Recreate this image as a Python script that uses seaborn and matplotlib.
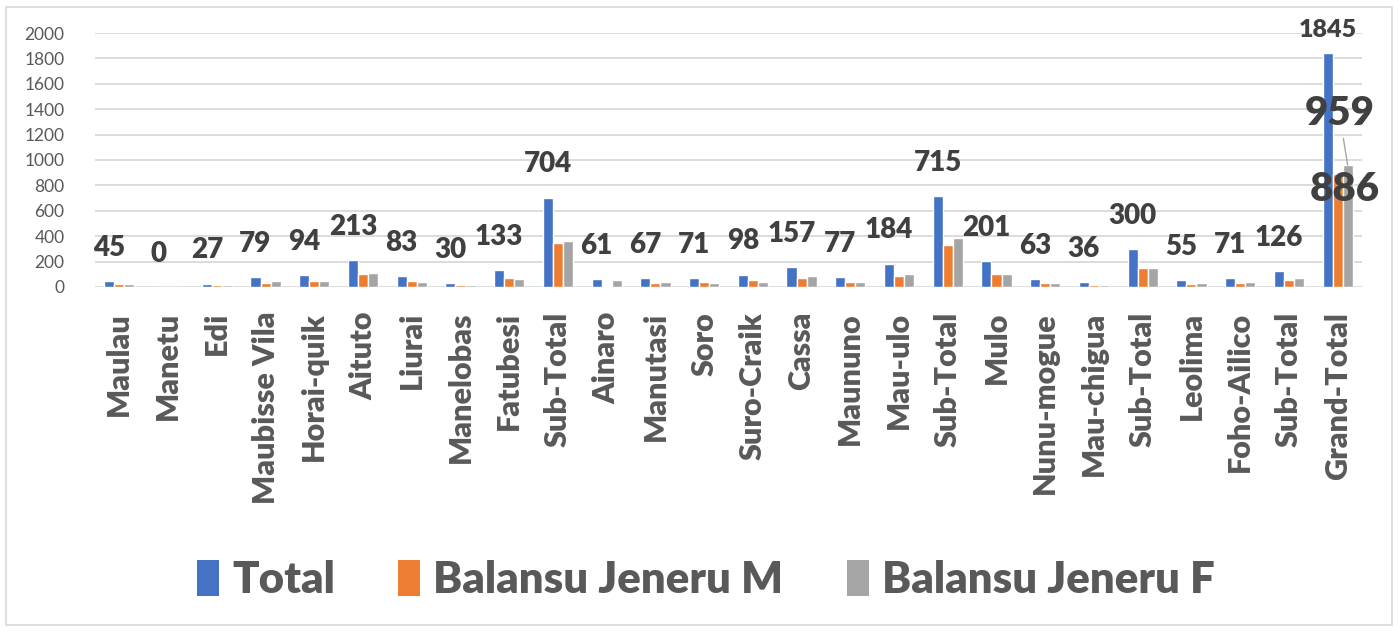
import matplotlib
matplotlib.use("Agg")
import matplotlib.pyplot as plt
import seaborn as sns
import pandas as pd
from matplotlib.patches import Rectangle, Patch

categories = ["Maulau", "Manetu", "Edi", "Maubisse Vila", "Horai-quik", "Aituto", "Liurai",
              "Manelobas", "Fatubesi", "Sub-Total", "Ainaro", "Manutasi", "Soro", "Suro-Craik",
              "Cassa", "Maununo", "Mau-ulo", "Sub-Total", "Mulo", "Nunu-mogue", "Mau-chigua",
              "Sub-Total", "Leolima", "Foho-Ailico", "Sub-Total", "Grand-Total"]
total = [45, 0, 27, 79, 94, 213, 83, 30, 133, 704, 61, 67, 71, 98, 157, 77, 184, 715,
         201, 63, 36, 300, 55, 71, 126, 1845]
male = [23, 0, 13, 35, 47, 106, 45, 14, 67, 345, 8, 30, 38, 55, 74, 38, 83, 333,
        102, 30, 17, 149, 25, 31, 56, 886]
female = [22, 0, 14, 44, 47, 107, 38, 16, 66, 359, 53, 37, 33, 43, 83, 39, 101, 382,
          99, 33, 19, 151, 30, 40, 70, 959]
series_names = ["Total", "Balansu Jeneru M", "Balansu Jeneru F"]
colors = ["#4472c4", "#ed7d31", "#a5a5a5"]

sns.set_theme(style="white")
plt.rcParams["font.family"] = ["Lato", "DejaVu Sans"]

rows = []
for name, vals in zip(series_names, [total, male, female]):
    for i, v in enumerate(vals):
        rows.append({"idx": i, "value": v, "series": name})
df = pd.DataFrame(rows)

fig = plt.figure(figsize=(13.98, 6.31), dpi=100)
ax = fig.add_axes([95 / 1398, 1 - 287 / 631, (1362 - 95) / 1398, (287 - 33) / 631])

sns.barplot(data=df, x="idx", y="value", hue="series", hue_order=series_names,
            palette=colors, width=0.62, ax=ax, legend=False, saturation=1)

ax.set_ylim(0, 2000)
ax.set_xlim(-0.5, len(categories) - 0.5)
ax.set_yticks(range(0, 2001, 200))
ax.yaxis.grid(True, color="#d9d9d9", linewidth=1.3)
ax.set_axisbelow(True)
for s in ax.spines.values():
    s.set_visible(False)
ax.tick_params(axis="y", length=0, pad=22, labelsize=12.5, labelcolor="#595959")
ax.tick_params(axis="x", length=0, pad=18)
ax.set_xticks(range(len(categories)))
ax.set_xticklabels(categories, rotation=90, fontsize=22, fontweight="heavy", color="#595959")
ax.set_xlabel("")
ax.set_ylabel("")

W = "heavy"
tot_bars = ax.containers[0].patches
for p, v in zip(tot_bars[:-1], total[:-1]):
    ax.annotate(str(v), xy=(p.get_x() + p.get_width() / 2, v), xytext=(0, 24),
                textcoords="offset points", ha="center", va="center",
                fontsize=20, fontweight=W, color="#404040")
p = tot_bars[-1]
ax.annotate(str(total[-1]), xy=(p.get_x() + p.get_width() / 2, total[-1]), xytext=(0, 16),
            textcoords="offset points", ha="center", va="center",
            fontsize=18, fontweight=W, color="#404040", annotation_clip=False)
pm = ax.containers[1].patches[-1]
ax.annotate(str(male[-1]), xy=(pm.get_x() + pm.get_width() / 2, male[-1]), xytext=(5, -11),
            textcoords="offset points", ha="center", va="center",
            fontsize=29, fontweight=W, color="#404040", annotation_clip=False)
pf = ax.containers[2].patches[-1]
ax.annotate(str(female[-1]), xy=(pf.get_x() + pf.get_width() / 2, female[-1]), xytext=(-6, 37),
            textcoords="offset points", ha="center", va="center",
            fontsize=29, fontweight=W, color="#404040", annotation_clip=False,
            arrowprops=dict(arrowstyle="-", color="#a6a6a6", lw=1, shrinkA=2, shrinkB=0))

handles = [Patch(facecolor=c, edgecolor="none") for c in colors]
leg = fig.legend(handles, series_names, loc="center", bbox_to_anchor=(0.505, 1 - 580 / 631),
                 ncol=3, frameon=False, handlelength=0.5, handleheight=0.9,
                 handletextpad=0.3, columnspacing=1.45,
                 prop={"size": 31.5, "weight": W})
for t in leg.get_texts():
    t.set_color("#595959")

fig.patches.append(Rectangle((6 / 1398, 6 / 631), 1386 / 1398, 618 / 631,
                             transform=fig.transFigure, fill=False,
                             edgecolor="#d9d9d9", linewidth=1.2))

fig.savefig("out.png", dpi=100)
